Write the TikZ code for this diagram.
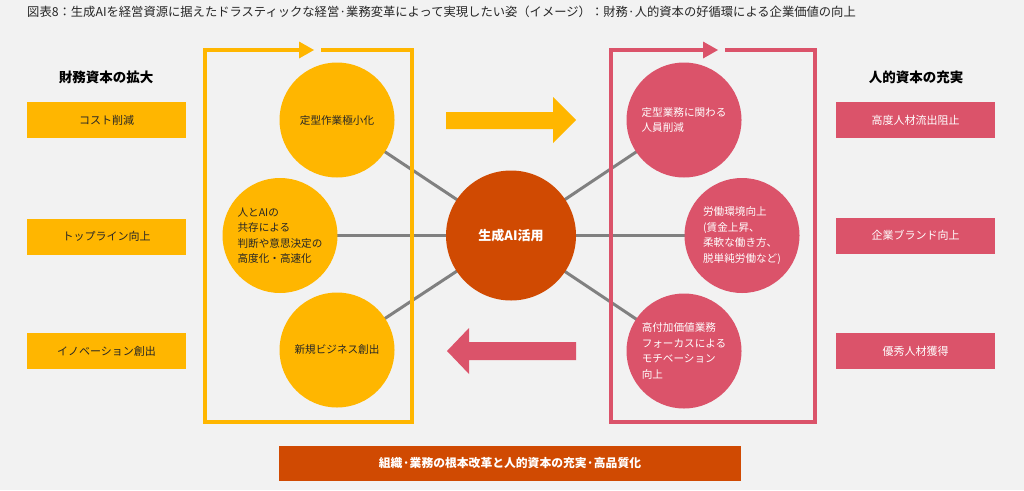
\documentclass[tikz,border=0pt]{standalone}
\usepackage{fontspec}
\setmainfont{Noto Sans CJK JP}
\usetikzlibrary{backgrounds}
\definecolor{bg}{HTML}{F2F2F2}
\definecolor{pwcyellow}{HTML}{FFB600}
\definecolor{pwcrose}{HTML}{DB536A}
\definecolor{pwcorange}{HTML}{D04A02}
\definecolor{linkgray}{HTML}{808080}
\definecolor{txtdark}{HTML}{262626}
\begin{document}
\begin{tikzpicture}[x=1pt,y=-1pt,
  ybox/.style={rectangle,fill=pwcyellow,minimum width=159pt,minimum height=36pt,inner sep=0pt,
    text=txtdark,font=\fontsize{11}{14}\selectfont},
  rbox/.style={rectangle,fill=pwcrose,minimum width=159pt,minimum height=36pt,inner sep=0pt,
    text=white,font=\fontsize{11}{14}\selectfont},
  ycirc/.style={circle,fill=pwcyellow,minimum size=115pt,inner sep=0pt,align=left,
    text=txtdark,font=\fontsize{10.6}{15.5}\selectfont},
  rcirc/.style={circle,fill=pwcrose,minimum size=115pt,inner sep=0pt,align=left,
    text=white,font=\fontsize{10.6}{15.5}\selectfont},
  hub/.style={circle,fill=pwcorange,minimum size=130pt,inner sep=0pt,
    text=white,font=\bfseries\fontsize{13}{16}\selectfont},
  header/.style={font=\bfseries\fontsize{13.5}{16}\selectfont,text=black},
  link/.style={draw=linkgray,line width=3pt},
  yframe/.style={draw=pwcyellow,line width=3.5pt,line join=miter},
  rframe/.style={draw=pwcrose,line width=3.5pt,line join=miter}
]
\useasboundingbox (0,0) rectangle (1024,490);

% title
\node[anchor=west,inner sep=0pt,font=\fontsize{12.3}{14}\selectfont,text=txtdark] (title) at (27,12)
  {図表8：生成AIを経営資源に据えたドラスティックな経営·業務変革によって実現したい姿（イメージ）：財務·人的資本の好循環による企業価値の向上};

% headers
\node[header] (hl) at (106,77) {財務資本の拡大};
\node[header] (hr) at (916,77) {人的資本の充実};

% side boxes
\node[ybox] (l1) at (106.5,120) {コスト削減};
\node[ybox] (l2) at (106.5,236.5) {トップライン向上};
\node[ybox] (l3) at (106.5,351) {イノベーション創出};
\node[rbox] (r1) at (915.5,120) {高度人材流出阻止};
\node[rbox] (r2) at (915.5,235.5) {企業ブランド向上};
\node[rbox] (r3) at (915.5,351) {優秀人材獲得};

% circles
\node[hub] (ai) at (511,235.5) {生成AI活用};
\node[ycirc] (c1) at (337,120) {定型作業極小化};
\node[ycirc] (c2) at (280,235.5) {人とAIの\\共存による\\判断や意思決定の\\高度化・高速化};
\node[ycirc] (c3) at (337,350) {新規ビジネス創出};
\node[rcirc] (p1) at (684,120) {定型業務に関わる\\人員削減};
\node[rcirc] (p2) at (742,235.5) {労働環境向上\\(賃金上昇、\\柔軟な働き方、\\脱単純労働など)};
\node[rcirc] (p3) at (684,351) {高付加価値業務\\フォーカスによる\\モチベーション\\向上};

% background and links
\begin{pgfonlayer}{background}
  \fill[bg] (0,0) rectangle (1024,490);
  \draw[link] (ai.center) -- (c1.center);
  \draw[link] (ai.center) -- (c2.center);
  \draw[link] (ai.center) -- (c3.center);
  \draw[link] (ai.center) -- (p1.center);
  \draw[link] (ai.center) -- (p2.center);
  \draw[link] (ai.center) -- (p3.center);
\end{pgfonlayer}

% frames with small arrows
\draw[yframe] (300,50) -- (205,50) -- (205,422) -- (412,422) -- (412,50) -- (321,50);
\fill[pwcyellow] (299,41.5) -- (314,50) -- (299,58.5) -- cycle;
\draw[rframe] (704,50) -- (611,50) -- (611,422) -- (815,422) -- (815,50) -- (725,50);
\fill[pwcrose] (703,41.5) -- (718,50) -- (703,58.5) -- cycle;

% big arrows
\fill[pwcyellow] (446,112) -- (553,112) -- (553,97) -- (576,120) -- (553,143) -- (553,129) -- (446,129) -- cycle;
\fill[pwcrose] (576,342) -- (469,342) -- (469,328) -- (447,351) -- (469,374) -- (469,360) -- (576,360) -- cycle;

% bottom bar
\node[rectangle,fill=pwcorange,minimum width=462pt,minimum height=35pt,inner sep=0pt,
  text=white,font=\bfseries\fontsize{11.8}{14}\selectfont] (bar) at (510,463.5)
  {組織·業務の根本改革と人的資本の充実·高品質化};
\end{tikzpicture}
\end{document}
